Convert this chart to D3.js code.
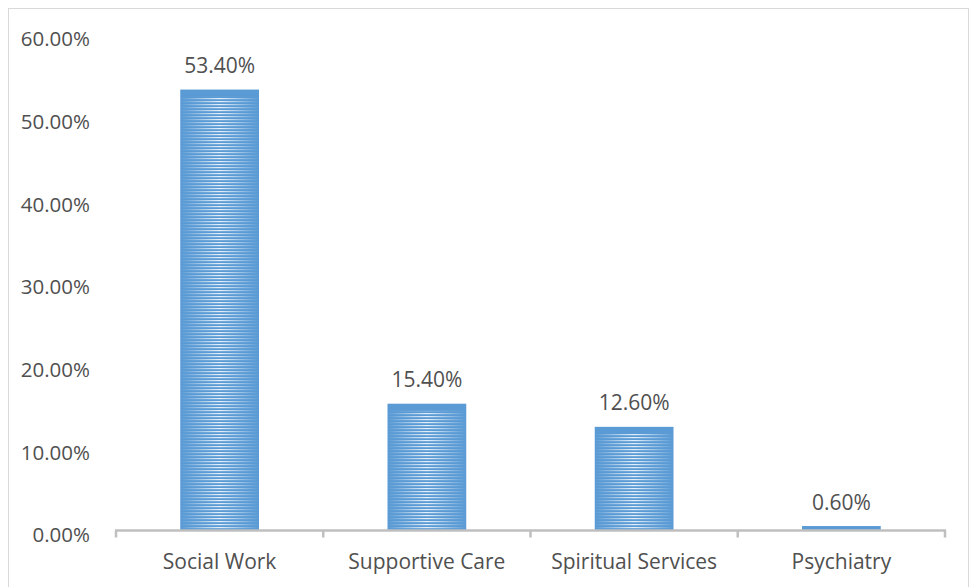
<!DOCTYPE html>
<html>
<head>
<meta charset="utf-8">
<script src="https://cdn.jsdelivr.net/npm/d3@7"></script>
<style>
  body { margin: 0; background: #fff; }
  text { font-family: "Open Sans", sans-serif; fill: #505050; }
</style>
</head>
<body>
<div id="chart"></div>
<script>
var categories = ["Social Work", "Supportive Care", "Spiritual Services", "Psychiatry"];
var values = [53.4, 15.4, 12.6, 0.6];
var yTicks = [0, 10, 20, 30, 40, 50, 60];

var W = 969, H = 587;
var margin = { top: 35, right: 24, bottom: 56, left: 116 },
  width = W - margin.left - margin.right,
  height = H - margin.top - margin.bottom;

var root = d3.select("#chart")
  .append("svg")
  .attr("width", W)
  .attr("height", H);

// outer chart border
root.append("rect")
  .attr("x", 8.5).attr("y", 8.5)
  .attr("width", W - 9).attr("height", H)
  .attr("fill", "#fff")
  .attr("stroke", "#d9d9d9");

var defs = root.append("defs");

var stripes = defs.append("pattern")
  .attr("id", "stripes")
  .attr("patternUnits", "userSpaceOnUse")
  .attr("width", 10).attr("height", 3);
stripes.append("rect").attr("width", 10).attr("height", 1.2).attr("fill", "#fff");

var grad = defs.append("linearGradient")
  .attr("id", "fade").attr("x1", "0").attr("x2", "1").attr("y1", "0").attr("y2", "0");
grad.append("stop").attr("offset", "0").attr("stop-color", "#fff").attr("stop-opacity", 0);
grad.append("stop").attr("offset", "0.5").attr("stop-color", "#fff").attr("stop-opacity", 0.85);
grad.append("stop").attr("offset", "1").attr("stop-color", "#fff").attr("stop-opacity", 0);

var mask = defs.append("mask")
  .attr("id", "fadeMask")
  .attr("maskContentUnits", "objectBoundingBox");
mask.append("rect").attr("width", 1).attr("height", 1).attr("fill", "url(#fade)");

var svg = root.append("g")
  .attr("transform", "translate(" + margin.left + "," + margin.top + ")");

var x = d3.scaleBand()
  .domain(categories)
  .range([0, width])
  .paddingInner(0.62)
  .paddingOuter(0.31);

var y = d3.scaleLinear()
  .domain([0, 60])
  .range([height, 0]);

// y tick labels (no axis line)
svg.selectAll(".ylab")
  .data(yTicks)
  .enter()
  .append("text")
  .attr("class", "ylab")
  .attr("x", -26)
  .attr("y", function (d) { return y(d) + 6; })
  .attr("text-anchor", "end")
  .attr("dominant-baseline", "middle")
  .style("font-size", "20.5px")
  .text(function (d) { return d.toFixed(2) + "%"; });

var bars = svg.selectAll(".bar")
  .data(values)
  .enter()
  .append("g")
  .attr("class", "bar");

bars.append("rect")
  .attr("x", function (d, i) { return x(categories[i]); })
  .attr("y", function (d) { return y(d); })
  .attr("width", x.bandwidth())
  .attr("height", function (d) { return height - y(d); })
  .attr("fill", "#5b9bd5");

bars.append("rect")
  .attr("x", function (d, i) { return x(categories[i]); })
  .attr("y", function (d) { return Math.min(y(d) + 7, height); })
  .attr("width", x.bandwidth())
  .attr("height", function (d) { return Math.max(height - y(d) - 7, 0); })
  .attr("fill", "url(#stripes)")
  .attr("mask", "url(#fadeMask)");

// value labels
svg.selectAll(".vlab")
  .data(values)
  .enter()
  .append("text")
  .attr("class", "vlab")
  .attr("x", function (d, i) { return x(categories[i]) + x.bandwidth() / 2; })
  .attr("y", function (d) { return y(d) - 22; })
  .attr("text-anchor", "middle")
  .attr("dominant-baseline", "middle")
  .style("font-size", "21px")
  .text(function (d) { return d.toFixed(2) + "%"; });

// x axis with ticks between categories
var xAxis = svg.append("g")
  .attr("transform", "translate(0," + (height - 0.5) + ")");

xAxis.append("line")
  .attr("x1", -1).attr("x2", width + 1)
  .attr("stroke", "#bfbfbf").attr("stroke-width", 2.5);

var edges = d3.range(categories.length + 1).map(function (i) { return i * width / categories.length; });
xAxis.selectAll(".tick")
  .data(edges)
  .enter()
  .append("line")
  .attr("x1", function (d) { return d; })
  .attr("x2", function (d) { return d; })
  .attr("y1", 0).attr("y2", 7)
  .attr("stroke", "#bfbfbf").attr("stroke-width", 2.5);

xAxis.selectAll(".xlab")
  .data(categories)
  .enter()
  .append("text")
  .attr("x", function (d) { return x(d) + x.bandwidth() / 2; })
  .attr("y", 33)
  .attr("text-anchor", "middle")
  .attr("dominant-baseline", "middle")
  .style("font-size", "21px")
  .text(function (d) { return d; });
</script>
</body>
</html>
